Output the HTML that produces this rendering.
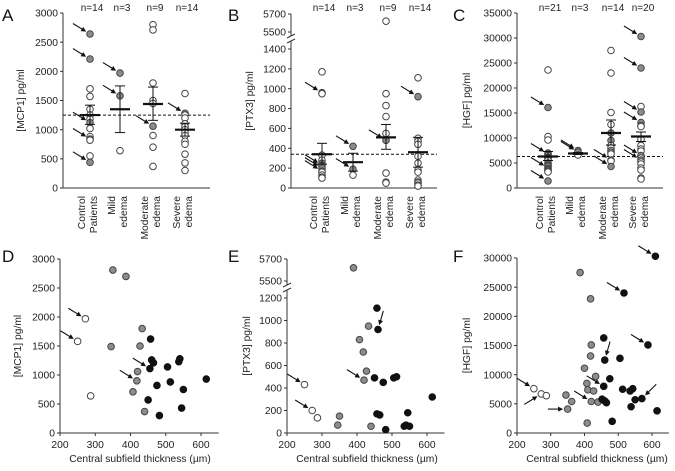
<!DOCTYPE html>
<html><head><meta charset="utf-8"><style>
body{margin:0;background:#fff;}
svg{display:block;font-family:"Liberation Sans",Arial,sans-serif;}
</style></head><body>
<svg id="fig" width="675" height="471" viewBox="0 0 675 471" xmlns="http://www.w3.org/2000/svg"></svg>
<script>
// ---------- DATA ----------
const groupCategories = ["Control|Patients","Mild|edema","Moderate|edema","Severe|edema"];
const mcp1Groups = [
 [[2640,"g",1],[2210,"g",1],[1700,"o"],[1570,"o"],[1350,"o"],[1250,"o"],[1180,"o"],[1120,"g",1],[1020,"o"],[880,"o"],[840,"g",1],[820,"o"],[550,"o"],[440,"g",1]],
 [[1970,"g",1],[1580,"g",1],[640,"o"]],
 [[2800,"o"],[2710,"o"],[1800,"o"],[1500,"o"],[1450,"o"],[1060,"g",1],[900,"o"],[700,"o"],[370,"o"]],
 [[1620,"o"],[1280,"g",1],[1250,"o"],[1200,"o"],[1100,"o"],[1050,"o"],[1000,"o"],[950,"o"],[900,"o"],[800,"o"],[750,"o"],[580,"o"],[430,"o"],[300,"o"]]
];
const mcp1Means = [1250,1350,1440,1000];
const mcp1Sem = [[1090,1420],[950,1750],[1160,1730],[890,1110]];
const mcp1N = ["n=14","n=3","n=9","n=14"];
const mcp1Ref = 1250;

const ptx3Groups = [
 [[1170,"o"],[960,"g",1],[950,"o"],[330,"o"],[280,"o"],[250,"g"],[230,"g",1],[220,"o"],[200,"g",1],[170,"g",1],[160,"o"],[130,"o"],[110,"o"],[100,"o"]],
 [[420,"g",1],[190,"g",1],[130,"o"]],
 [[5620,"o"],[950,"o"],[830,"o"],[720,"o"],[550,"o"],[480,"g",1],[150,"o"],[60,"o"],[50,"o"]],
 [[1110,"o"],[920,"g",1],[500,"o"],[470,"o"],[440,"o"],[320,"o"],[250,"o"],[180,"o"],[160,"o"],[80,"o"],[60,"o"],[50,"o"],[30,"o"],[20,"o"]]
];
const ptx3Means = [340,260,510,360];
const ptx3Sem = [[240,450],[170,350],[390,640],[210,510]];
const ptx3N = ["n=14","n=3","n=9","n=14"];
const ptx3Ref = 340;

const hgfGroups = [
 [[23600,"o"],[16100,"g",1],[10300,"o"],[9600,"o"],[7000,"o"],[6800,"g",1],[6500,"o"],[6200,"o"],[6000,"o"],[5800,"o"],[5500,"o"],[5000,"o"],[4700,"o"],[4500,"o"],[4300,"o"],[4000,"g",1],[3800,"o"],[3600,"o"],[3400,"o"],[3200,"o"],[1400,"g",1]],
 [[7500,"g",1],[7200,"g",1],[6600,"o"]],
 [[27500,"o"],[23000,"o"],[15100,"o"],[12700,"o"],[11000,"g"],[9500,"g"],[8500,"o"],[8000,"o"],[7500,"o"],[7200,"g"],[6800,"o"],[5600,"g",1],[5400,"o"],[4300,"g",1]],
 [[30300,"g",1],[24000,"g",1],[16300,"o"],[15200,"g",1],[13100,"g",1],[12500,"o"],[12300,"o"],[9700,"o"],[8500,"o"],[7800,"o"],[7400,"o"],[6500,"g",1],[6000,"o"],[5600,"g",1],[5200,"o"],[4800,"o"],[4000,"o"],[3600,"o"],[2000,"o"],[1800,"o"]]
];
const hgfMeans = [6300,6900,11000,10300];
const hgfSem = [[5500,7300],[6700,7100],[8600,13600],[9300,11200]];
const hgfN = ["n=21","n=3","n=14","n=20"];
const hgfRef = 6300;

const mcp1Scatter = [[272,1970,"o",1],[250,1580,"o",1],[287,640,"o"],[350,2810,"g"],[387,2700,"g"],[433,1800,"g"],[345,1490,"g"],[427,1500,"g"],[420,1060,"g"],[418,900,"g",1],[407,710,"g"],[440,370,"g"],
 [457,1620,"b"],[460,1260,"b"],[465,1210,"b"],[455,1110,"b",1],[505,1140,"b"],[537,1230,"b"],[540,1280,"b"],[513,880,"b"],[475,820,"b"],[615,930,"b"],[550,750,"b"],[450,570,"b"],[545,430,"b"],[482,300,"b"]];
const ptx3Scatter = [[250,430,"o",1],[272,200,"o",1],[287,135,"o"],[390,5620,"g"],[433,950,"g"],[407,830,"g"],[418,720,"g"],[427,550,"g"],[420,470,"g",1],[350,150,"g"],[345,70,"g"],[440,60,"g"],
 [457,1110,"b"],[460,920,"b",2],[450,490,"b"],[475,450,"b"],[505,490,"b"],[513,500,"b"],[615,320,"b"],[457,170,"b"],[465,160,"b"],[545,180,"b"],[482,30,"b"],[535,60,"b"],[540,70,"b"],[550,60,"b"]];
const hgfScatter = [[250,7600,"o",1],[272,6700,"o",3],[287,6400,"o"],[387,27500,"g"],[418,23000,"g"],[420,15100,"g"],[418,13200,"g"],[400,11100,"g"],[433,9700,"g"],[407,8500,"g"],[410,7400,"g"],[427,7200,"g"],[345,6500,"g"],[362,5400,"g"],[350,4100,"g",4],[420,5400,"g",1],[440,5300,"g"],[408,1700,"g"],
 [610,30300,"b",1],[517,24000,"b",1],[457,16300,"b"],[588,15100,"b",1],[460,12500,"b",2],[505,12800,"b"],[475,9300,"b"],[457,8000,"b",1],[513,7500,"b"],[535,7200,"b"],[543,7600,"b"],[570,5900,"b",5],[550,5700,"b"],[452,5800,"b"],[460,5500,"b"],[465,5200,"b"],[538,4500,"b"],[615,3800,"b"],[482,2000,"b"]];

const mcp1Ticks=[0,500,1000,1500,2000,2500,3000];
const ptx3TicksB=[0,200,400,600,800,1000,1200,1400];
const ptx3TicksE=[0,200,400,600,800,1000,1200];
const ptx3UpperTicks=[5500,5700];
const hgfTicksC=[0,5000,10000,15000,20000,25000,30000,35000];
const hgfTicksF=[0,5000,10000,15000,20000,25000,30000];
const xTicks=[200,300,400,500,600];

// ---------- DRAWING ----------
const svg=document.getElementById('fig');
const NS="http://www.w3.org/2000/svg";
function mk(tag,attrs,parent){const e=document.createElementNS(NS,tag);for(const k in attrs)e.setAttribute(k,attrs[k]);(parent||svg).appendChild(e);return e;}
const FILL={o:"#fff",g:"#8c8c8c",b:"#111"};
const FS=10.3;

function linScale(d0,d1,r0,r1){return v=>r0+(v-d0)*(r1-r0)/(d1-d0);}
function brokenScale(lo,hi){const a=linScale(...lo),b=linScale(...hi);return v=>v>=5000?b(v):a(v);}

function arrow(px,py,kind,g){
  let dx=-13,dy=-8;
  if(kind===2){dx=4;dy=-14;}
  if(kind===3){dx=-13;dy=8;}
  if(kind===4){dx=-15;dy=0;}
  if(kind===5){dx=11;dy=-11;}
  const L=Math.hypot(dx,dy),ux=dx/L,uy=dy/L;
  const tx=px+ux*4.5,ty=py+uy*4.5;
  const l=mk('line',{x1:px+dx*1.05+ux*4,y1:py+dy*1.05+uy*4,x2:tx+ux*3,y2:ty+uy*3,stroke:"#111","stroke-width":1.1},g);
  
  
  const nx=-uy,ny=ux;
  const h=mk('polygon',{points:`${tx},${ty} ${tx+ux*5+nx*2.5},${ty+uy*5+ny*2.5} ${tx+ux*5-nx*2.5},${ty+uy*5-ny*2.5}`,fill:"#111"},g);
  
  
}
function dot(x,y,f,g){
  const c=mk('circle',{cx:x,cy:y,r:3.3,fill:FILL[f],stroke:f==="b"?"#111":"#444","stroke-width":1},g);
  
  
}
function panelLetter(t,x,y){const e=mk('text',{x:x,y:y,"font-size":17,fill:"#111"});e.textContent=t;
  
  }

function yAxis(cfg,g){
  const {ax,yS,ticks,top,bottom,brk,upperTicks,title,titleX}=cfg;
  if(brk){
    mk('line',{x1:ax,y1:top,x2:ax,y2:brk-3,stroke:"#333"},g);
    mk('line',{x1:ax,y1:brk+2,x2:ax,y2:bottom,stroke:"#333"},g);
    mk('line',{x1:ax-4,y1:brk-1,x2:ax+4,y2:brk-5,stroke:"#333"},g);
    mk('line',{x1:ax-4,y1:brk+4,x2:ax+4,y2:brk,stroke:"#333"},g);
  } else mk('line',{x1:ax,y1:top,x2:ax,y2:bottom,stroke:"#333"},g);
  const all=ticks.concat(upperTicks||[]);
  all.forEach(t=>{const y=yS(t);
    mk('line',{x1:ax-3,y1:y,x2:ax,y2:y,stroke:"#333"},g);
    const tx=mk('text',{x:ax-5,y:y+3.6,"font-size":FS,"text-anchor":"end",fill:"#222"},g);tx.textContent=t;
    
    });
  const ty=mk('text',{x:titleX,y:(top+bottom)/2,"font-size":FS,"text-anchor":"middle",fill:"#222",transform:`rotate(-90 ${titleX} ${(top+bottom)/2})`},g);
  ty.textContent=title;
  
  
}

function dotPanel(p){
  const g=mk('g',{});
  
  
  yAxis(p,g);
  mk('line',{x1:p.ax,y1:p.bottom,x2:p.axEnd,y2:p.bottom,stroke:"#333"},g);
  const ry=p.yS(p.ref);
  const d=mk('line',{x1:p.ax,y1:ry,x2:p.axEnd,y2:ry,stroke:"#111","stroke-dasharray":"3,2","stroke-width":1},g);
  
  
  p.groups.forEach((grp,i)=>{
    const cx=p.cats[i];
    grp.forEach(v=>dot(cx,p.yS(v[0]),v[1],g));
    const m=p.yS(p.means[i]);
    const mb=mk('line',{x1:cx-10,y1:m,x2:cx+10,y2:m,stroke:"#111","stroke-width":2.2},g);
    
    
    const s0=p.yS(p.sem[i][0]),s1=p.yS(p.sem[i][1]);
    mk('line',{x1:cx,y1:s0,x2:cx,y2:s1,stroke:"#111"},g);
    mk('line',{x1:cx-5,y1:s0,x2:cx+5,y2:s0,stroke:"#111"},g);
    mk('line',{x1:cx-5,y1:s1,x2:cx+5,y2:s1,stroke:"#111"},g);
    grp.forEach(v=>{if(v[2])arrow(cx,p.yS(v[0]),v[2],g);});
    const n=mk('text',{x:cx+2,y:11,"font-size":10,"text-anchor":"middle",fill:"#222"},g);n.textContent=p.n[i];
    
    
    const parts=groupCategories[i].split("|");
    parts.forEach((t,j)=>{const x=cx-5+j*12,y=196;
      const e=mk('text',{x:x,y:y,"font-size":FS,"text-anchor":"end",fill:"#222",transform:`rotate(-90 ${x} ${y})`},g);e.textContent=t;
      
      });
  });
}

function scatterPanel(p){
  const g=mk('g',{});
  
  
  yAxis(p,g);
  const xS=linScale(200,600,p.ax,p.x600);
  mk('line',{x1:p.ax,y1:p.bottom,x2:xS(650),y2:p.bottom,stroke:"#333"},g);
  xTicks.forEach(t=>{const x=xS(t);mk('line',{x1:x,y1:p.bottom,x2:x,y2:p.bottom+3,stroke:"#333"},g);
    const e=mk('text',{x:x,y:p.bottom+15,"font-size":FS,"text-anchor":"middle",fill:"#222"},g);e.textContent=t;
    
    });
  const xt=mk('text',{x:p.ax+80,y:462,"font-size":FS,"text-anchor":"middle",fill:"#222"},g);xt.textContent="Central subfield thickness (µm)";
  
  
  p.pts.forEach(v=>dot(xS(v[0]),p.yS(v[1]),v[2],g));
  p.pts.forEach(v=>{if(v[3])arrow(xS(v[0]),p.yS(v[1]),v[3],g);});
}

dotPanel({name:"panel-a-mcp1",ax:63,axEnd:210,top:13,bottom:188,yS:linScale(0,3000,188,13),ticks:mcp1Ticks,title:"[MCP1] pg/ml",titleX:24,
  cats:[90,120,153,185],groups:mcp1Groups,means:mcp1Means,sem:mcp1Sem,n:mcp1N,ref:mcp1Ref});
dotPanel({name:"panel-b-ptx3",ax:291,axEnd:437,top:14,bottom:188,brk:39,upperTicks:ptx3UpperTicks,
  yS:brokenScale([0,1400,188,49],[5500,5700,32,14]),ticks:ptx3TicksB,title:"[PTX3] pg/ml",titleX:253,
  cats:[322,353,386,418],groups:ptx3Groups,means:ptx3Means,sem:ptx3Sem,n:ptx3N,ref:ptx3Ref});
dotPanel({name:"panel-c-hgf",ax:517,axEnd:663,top:13,bottom:188,yS:linScale(0,35000,188,13),ticks:hgfTicksC,title:"[HGF] pg/ml",titleX:470,
  cats:[548,578,611,641],groups:hgfGroups,means:hgfMeans,sem:hgfSem,n:hgfN,ref:hgfRef});
scatterPanel({name:"panel-d-mcp1-scatter",ax:60,x600:201,top:259,bottom:433,yS:linScale(0,3000,433,259),ticks:mcp1Ticks,title:"[MCP1] pg/ml",titleX:21,pts:mcp1Scatter});
scatterPanel({name:"panel-e-ptx3-scatter",ax:287,x600:427,top:259,bottom:433,brk:288,upperTicks:ptx3UpperTicks,
  yS:brokenScale([0,1200,433,298],[5500,5700,281,259]),ticks:ptx3TicksE,title:"[PTX3] pg/ml",titleX:250,pts:ptx3Scatter});
scatterPanel({name:"panel-f-hgf-scatter",ax:517,x600:652,top:258,bottom:433,yS:linScale(0,30000,433,258),ticks:hgfTicksF,title:"[HGF] pg/ml",titleX:470,pts:hgfScatter});

panelLetter("A",2,21);panelLetter("B",228,21);panelLetter("C",453,21);
panelLetter("D",2,262);panelLetter("E",228,262);panelLetter("F",453,262);
</script>
</body></html>
